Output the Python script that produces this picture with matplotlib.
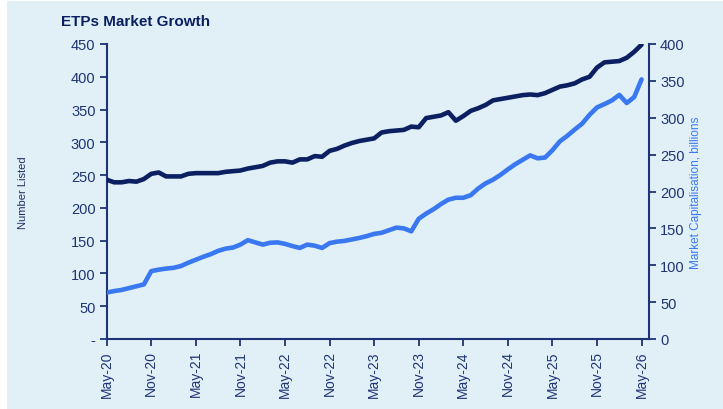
import matplotlib
matplotlib.use("Agg")
import matplotlib.pyplot as plt
from matplotlib.patches import Rectangle
import numpy as np

plt.rcParams['font.family'] = ['Liberation Sans', 'DejaVu Sans']

title = "ETPs Market Growth"
left_label = "Number Listed"
right_label = "Market Capitalisation, billions"

number_listed = [243, 239, 239, 241, 240, 244, 252, 254, 248, 248, 248, 252, 253, 253, 253, 253,
                 255, 256, 257, 260, 262, 264, 269, 271, 271, 269, 274, 274, 279, 278, 287, 290,
                 295, 299, 302, 304, 306, 315, 317, 318, 319, 324, 323, 337, 339, 341, 346, 333,
                 340, 348, 352, 357, 364, 366, 368, 370, 372, 373, 372, 375, 380, 385, 387, 390,
                 396, 400, 414, 422, 423, 424, 429, 438, 449]
market_cap = [63, 65, 66.5, 69, 71.5, 74, 92, 94, 95.5, 96.5, 99, 103.5, 107.5, 111.5, 115, 119.5,
              122.5, 124, 128, 134, 131, 128, 130.5, 131, 129, 126, 123.5, 128, 126.5, 123.5, 130, 132,
              133, 135, 137, 139.5, 142.5, 144, 147.5, 151, 150, 146, 163, 170, 176, 183, 189, 191.5,
              191.5, 195, 204, 211, 216, 222.5, 230, 237, 243, 249, 245, 246, 256, 268, 275.5, 284,
              292, 304, 314, 318.5, 323.5, 331, 320, 328, 352]
tick_labels = ["May-20", "Nov-20", "May-21", "Nov-21", "May-22", "Nov-22", "May-23", "Nov-23",
               "May-24", "Nov-24", "May-25", "Nov-25", "May-26"]
left_ticks = [0, 50, 100, 150, 200, 250, 300, 350, 400, 450]
left_tick_labels = ["-", "50", "100", "150", "200", "250", "300", "350", "400", "450"]
right_ticks = [0, 50, 100, 150, 200, 250, 300, 350, 400]

bg = "#E1F0F7"
navy = "#0B1F61"
blue = "#3A78F2"
axis_col = "#1F3474"
text_col = "#1F2D63"

fig = plt.figure(figsize=(7.23, 4.10), dpi=100)
fig.patch.set_facecolor("white")
fig.patches.append(Rectangle((7/723, 0), 1 - 7/723, 408/410, transform=fig.transFigure,
                             facecolor=bg, edgecolor="none", zorder=-10))

ax = fig.add_axes([106.7/723, 70/410, (649-106.7)/723, (340-45)/410])
ax.set_facecolor("none")
ax2 = ax.twinx()
ax2.set_facecolor("none")

x = np.arange(len(number_listed))
ax.plot(x, number_listed, color=navy, lw=3.3, solid_joinstyle="round", solid_capstyle="round", zorder=3)
ax2.plot(x, market_cap, color=blue, lw=3.3, solid_joinstyle="round", solid_capstyle="round", zorder=3)

ax.set_xlim(0, 73)
ax.set_ylim(0, 450)
ax2.set_ylim(0, 400)
ax.set_xticks(np.arange(0, 73, 6))
ax.set_xticklabels(tick_labels, rotation=90, fontsize=10, color=text_col)
ax.set_yticks(left_ticks)
ax.set_yticklabels(left_tick_labels, fontsize=10.5, color=text_col)
ax2.set_yticks(right_ticks)
ax2.set_yticklabels([str(v) for v in right_ticks], fontsize=10.5, color=text_col)

for a in (ax, ax2):
    a.spines['top'].set_visible(False)
    for s in ('left', 'right', 'bottom'):
        a.spines[s].set_color(axis_col)
        a.spines[s].set_linewidth(1.5)
    a.tick_params(colors=axis_col, width=1.3, length=5, direction='out', pad=3)
ax.spines['right'].set_visible(False)
ax2.spines['left'].set_visible(False)
ax2.spines['bottom'].set_visible(False)

ax.set_ylabel(left_label, fontsize=8, color=text_col, labelpad=31)
ax2.set_ylabel(right_label, fontsize=8.5, color=blue, labelpad=4)

fig.text(61/723, 1 - 22/410, title, fontsize=11, fontweight='bold', color=navy,
         ha='left', va='center')

fig.savefig("out.png", dpi=100, facecolor=fig.get_facecolor())
